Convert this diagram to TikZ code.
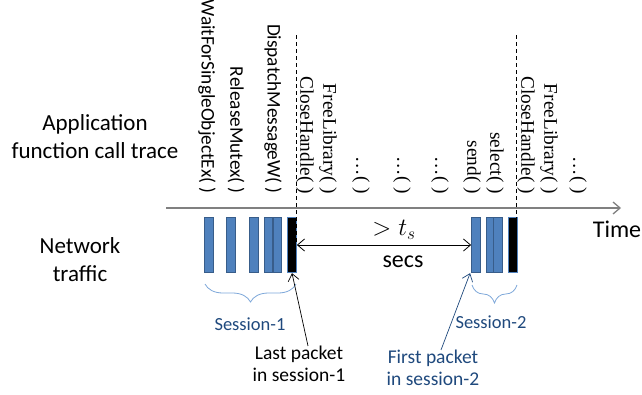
\documentclass[tikz,border=0pt]{standalone}
\usepackage{fontspec}
\setmainfont{Carlito}
\newfontfamily\tms{Liberation Serif}
\usetikzlibrary{arrows.meta,decorations.pathreplacing,calc}
\definecolor{barblue}{HTML}{4F81BD}
\definecolor{bardark}{HTML}{385D8A}
\definecolor{bracecol}{HTML}{7DA7D9}
\definecolor{navy}{HTML}{1F497D}
\definecolor{axgray}{HTML}{808080}
\tikzset{
  bar/.style={draw=bardark,fill=barblue,line width=1.3pt,minimum width=8.5pt,minimum height=55pt,inner sep=0pt},
  blackbar/.style={bar,fill=black,draw=barblue},
  fsans/.style={rotate=-90,anchor=east,inner sep=0pt,font=\fontsize{19.3}{20}\selectfont},
  fserif/.style={rotate=-90,anchor=east,inner sep=0pt,font=\tms\fontsize{19.3}{20}\selectfont},
  lbl/.style={align=center,font=\fontsize{23}{28}\selectfont,inner sep=0pt},
  sess/.style={text=navy,font=\fontsize{18.5}{20}\selectfont,inner sep=0pt},
  note/.style={align=center,font=\fontsize{19.5}{22}\selectfont,inner sep=0pt},
  brc/.style={draw=bracecol,line width=0.8pt,decorate,decoration={brace,mirror,amplitude=18pt}},
  openarrow/.style={-{Straight Barb[length=7pt,width=11pt]}},
}
\begin{document}
\begin{tikzpicture}[x=1pt,y=-1pt]
\useasboundingbox (0,0) rectangle (642,394);
% left labels
\node[lbl] (app) at (95,137) {Application\\function call trace};
\node[lbl] (net) at (80,260) {Network\\traffic};
% time axis
\coordinate (ax0) at (166,208);
\coordinate (ax1) at (621,208);
\draw[axgray,line width=1.3pt,-{Straight Barb[length=7pt,width=12pt]}] (ax0) -- (ax1);
\node[font=\fontsize{24}{26}\selectfont,inner sep=0pt] (time) at (617,229) {Time};
% function labels
\node[fsans] (f1) at (207,194) {WaitForSingleObjectEx( )};
\node[fsans] (f2) at (236,194) {ReleaseMutex( )};
\node[fsans] (f3) at (273,194) {DispatchMessageW( )};
\node[fserif] (f4) at (305,194) {CloseHandle( )};
\node[fserif] (f5) at (328,194) {FreeLibrary( )};
\node[fserif] (f6) at (361,194) {\dots( )};
\node[fserif] (f7) at (402,194) {\dots( )};
\node[fserif] (f8) at (440,194) {\dots( )};
\node[fserif] (f9) at (472,194) {send( )};
\node[fserif] (f10) at (495,194) {select( )};
\node[fserif] (f11) at (526,194) {CloseHandle( )};
\node[fserif] (f12) at (549,194) {FreeLibrary( )};
\node[fserif] (f13) at (578,194) {\dots( )};
% bars session 1
\node[bar] (b1) at (209,245) {};
\node[bar] (b2) at (231,245) {};
\node[bar] (b3) at (254,245) {};
\node[bar] (b4) at (268.5,245) {};
\node[bar] (b5) at (277.5,245) {};
\node[blackbar] (b6) at (292,245) {};
% bars session 2
\node[bar] (c1) at (476,245) {};
\node[bar] (c2) at (490.5,245) {};
\node[bar] (c3) at (498,245) {};
\node[blackbar] (c4) at (513,245) {};
% dashed lines
\coordinate (d1t) at (296,35);
\coordinate (d1b) at (296,244);
\coordinate (d2t) at (516,35);
\coordinate (d2b) at (516,242);
\draw[dashed,line width=0.8pt,dash pattern=on 4pt off 3pt] (d1t) -- (d1b);
\draw[dashed,line width=0.8pt,dash pattern=on 4pt off 3pt] (d2t) -- (d2b);
% gap arrow
\draw[line width=0.8pt,{Straight Barb[length=7pt,width=12pt]}-{Straight Barb[length=7pt,width=12pt]}] (b6.east) -- (c1.west);
\node[inner sep=0pt,font=\fontsize{26}{28}\selectfont] (ts) at (394,230) {$>t_s$};
\node[inner sep=0pt,font=\fontsize{24}{26}\selectfont] (secs) at (403,262) {secs};
% braces
\coordinate (s1a) at (205,284);
\coordinate (s1b) at (296,284);
\coordinate (s2a) at (472,285);
\coordinate (s2b) at (517,285);
\draw[brc] (s1a) -- (s1b);
\draw[brc] (s2a) -- (s2b);
\node[sess] (sess1) at (250,324) {Session-1};
\node[sess] (sess2) at (491,322) {Session-2};
% notes
\node[note] (last) at (299,364) {Last packet\\in session-1};
\node[note,text=navy] (first) at (433,368) {First packet\\in session-2};
\draw[line width=0.7pt,openarrow] ([xshift=9pt]last.north) -- (b6.south);
\draw[navy,line width=0.7pt,openarrow] ([xshift=8pt]first.north) -- ([xshift=-1pt]c1.south west);
\end{tikzpicture}
\end{document}
